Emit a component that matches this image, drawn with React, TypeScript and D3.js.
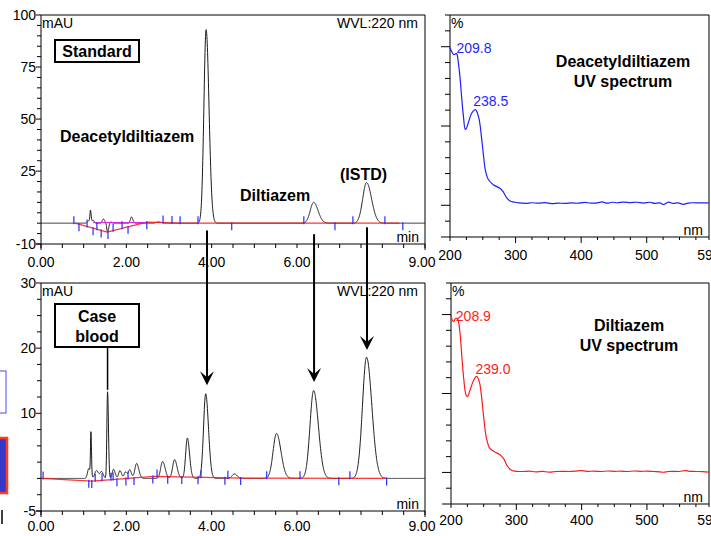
import React, { useEffect, useRef } from "react";
import * as d3 from "d3";

const FONT = "'Liberation Sans', Arial, Helvetica, sans-serif";

// Standard run: peak table (min, mAU, width in min)
const stdRt = [1.12, 1.16, 1.22, 1.46, 1.56, 1.64, 2.12, 2.75, 3.87, 6.39, 7.63];
const stdHt = [1.2, 5.6, 1.4, 2.0, -4.4, 0.6, 3.0, 0.6, 93, 10, 19.5];
const stdWd = [0.03, 0.012, 0.02, 0.025, 0.018, 0.02, 0.025, 0.05, 0.052, 0.08, 0.09];
// integration baseline (red) and split baseline (magenta)
const stdBaseT = [0.8, 1.55, 2.48, 3.3, 8.4];
const stdBaseV = [0, -4.3, 0.5, 0, 0];
const stdMagT = [1.22, 2.48];
const stdMagV = [0.3, 0.3];
// peak start / stop markers (min), 1 = up, -1 = down
const stdMarkT = [0.77, 0.89, 1.08, 1.22, 1.31, 1.41, 1.57, 1.69, 1.9, 2.04, 2.48, 2.86, 3.07, 3.26, 3.68, 4.47, 6.16, 6.89, 7.31, 8.06, 8.48];
const stdMarkD = [1, -1, 1, -1, 1, -1, -1, 1, 1, -1, -1, 1, 1, 1, 1, -1, 1, -1, 1, 1, -1];

// Case blood run
const caseRt = [1.12, 1.17, 1.3, 1.42, 1.56, 1.7, 1.85, 1.98, 2.08, 2.24, 2.85, 3.13, 3.43, 3.86, 4.53, 5.52, 6.39, 7.63];
const caseHt = [1.5, 6.6, 1.2, 1.0, 13.3, 1.4, 1.2, 1.0, 1.3, 2.3, 2.6, 2.9, 6.2, 13.0, 0.7, 6.9, 13.5, 18.6];
const caseWd = [0.03, 0.01, 0.04, 0.03, 0.016, 0.03, 0.03, 0.03, 0.03, 0.04, 0.045, 0.045, 0.04, 0.05, 0.05, 0.08, 0.085, 0.095];
const caseBaseT = [0, 1.2, 2.65, 4.7, 8.1];
const caseBaseV = [0, -0.4, 0.3, 0.05, 0];
const caseMarkT = [0.05, 1.12, 1.19, 1.27, 1.43, 1.64, 1.69, 1.78, 1.99, 2.04, 2.18, 2.62, 2.72, 2.97, 3.3, 3.68, 3.75, 4.31, 4.38, 4.68, 5.29, 6.07, 6.98, 7.24, 8.1];
const caseMarkD = [1, -1, -1, 1, 1, 1, 1, -1, -1, 1, -1, -1, 1, -1, -1, -1, 1, -1, 1, -1, 1, 1, -1, 1, -1];

// arrows linking the standard peaks to the case blood peaks
const arrowRt = [3.89, 6.4, 7.64];
const arrowFrom = [-3.5, -5.3, -2];
const arrowTo = [14.3, 14.8, 19.7];

// UV spectra (nm, %)
const deaSpec: [number, number][] = [
  [200, 99.5], [203, 96.5], [206, 95], [209.8, 95.8], [211, 94.8], [213, 89], [215.2, 81], [217.7, 68.5],
  [220.3, 57], [223.3, 47.9], [225, 48.5], [227.9, 52], [233, 58], [237, 60], [238.5, 60.4], [240.6, 59.4],
  [244.6, 53.8], [248, 43], [250.7, 32.8], [254, 22], [258, 16.6], [266, 13], [276, 10.7], [281, 8.6],
  [286, 5], [291, 2.9], [299, 1.9], [305, 1.5], [315, 1.2], [325, 1.6], [335, 1.3], [345, 1.7], [355, 1.1],
  [365, 1.4], [375, 1.2], [385, 1.5], [395, 1.3], [405, 1.8], [415, 1.4], [425, 1.5], [432, 2.1], [440, 1.3],
  [447, 1.9], [455, 1.6], [465, 2.0], [475, 1.7], [485, 1.9], [495, 1.4], [505, 1.9], [512, 1.2], [520, 1.5],
  [526, 0.5], [533, 2.0], [540, 1.2], [548, 1.5], [556, 0.6], [563, 1.4], [570, 1.6], [580, 1.5], [595, 1.5],
];
const dilSpec: [number, number][] = [
  [200, 99.8], [202.5, 96], [204.5, 95.8], [206.6, 97.3], [208.9, 97.7], [211, 96.2], [213.7, 88.8], [216.7, 73],
  [219.8, 58], [222.8, 49.4], [225.3, 48], [229, 52], [234, 57.8], [239, 60.8], [243, 58], [246.6, 48.7],
  [250, 35], [254, 22.4], [259, 15.6], [267, 12.9], [274.5, 11.4], [280.6, 8.7], [285.7, 4.4], [290.8, 1.9],
  [297, 0.8], [310, 0.6], [320, 0.8], [330, 0.4], [340, 0.7], [350, 0.2], [360, 0.6], [370, 0.7], [380, 0.6],
  [390, 0.8], [399, 1.2], [408, 0.7], [420, 0.8], [430, 0.6], [440, 0.9], [450, 0.7], [460, 0.8], [470, 0.6],
  [480, 0.9], [490, 0.7], [500, 0.8], [510, 0.6], [520, 0.4], [526, 0.1], [532, 0.6], [540, 0.7], [550, 0.6],
  [558, 1.2], [565, 0.7], [575, 0.6], [585, 0.5], [595, 0.2],
];
const deaMaxima = [209.8, 238.5];
const dilMaxima = [208.9, 239.0];

const chromLabels = [0, 2, 4, 6, 9];
const specLabels = [200, 300, 400, 500, 595];

type Sel = d3.Selection<any, unknown, null, undefined>;

function trace(rt: number[], ht: number[], wd: number[]) {
  const pts: [number, number][] = [];
  for (let t = 0; t <= 9.0001; t += 0.004) {
    let v = 0;
    rt.forEach((r, i) => {
      const s = t < r ? wd[i] : wd[i] * 1.3;
      v += ht[i] * Math.exp(-0.5 * ((t - r) / s) ** 2);
    });
    pts.push([t, v]);
  }
  return pts;
}

function txt(g: Sel, x: number, y: number, s: string, size: number, opts: any = {}) {
  return g.append("text").attr("x", x).attr("y", y)
    .attr("font-family", FONT).attr("font-size", size)
    .attr("font-weight", opts.bold ? "bold" : "normal")
    .attr("text-anchor", opts.anchor || "start")
    .attr("fill", opts.fill || "#000").text(s);
}

function drawChrom(svg: Sel, o: any) {
  const x = d3.scaleLinear().domain([0, 9]).range([41, 425]);
  const y = d3.scaleLinear().domain(o.yDomain).range([o.bottom, o.top]);
  const g = svg.append("g");
  // frame
  g.append("path").attr("d", `M41,${o.top}H425V${o.bottom + 6}`).attr("fill", "none").attr("stroke", "#000");
  g.append("line").attr("x1", 41).attr("x2", 41).attr("y1", o.top).attr("y2", o.bottom + 6).attr("stroke", "#000");
  g.append("line").attr("x1", 36).attr("x2", 425).attr("y1", o.bottom).attr("y2", o.bottom).attr("stroke", "#000");
  // y ticks
  d3.range(o.yDomain[0], o.yDomain[1] + 0.01, o.yStep).forEach((v) => {
    const lab = o.yLabels.includes(v);
    g.append("line").attr("x1", lab ? 36 : 37).attr("x2", 41).attr("y1", y(v)).attr("y2", y(v)).attr("stroke", "#000");
  });
  o.yLabels.forEach((v: number) => txt(g, 36, y(v) + 5, String(v), 14, { anchor: "end" }));
  // x ticks
  d3.range(0, 9.001, 0.5).forEach((t) => {
    g.append("line").attr("x1", x(t)).attr("x2", x(t)).attr("y1", o.bottom).attr("y2", o.bottom + 4).attr("stroke", "#000");
  });
  chromLabels.forEach((t) => txt(g, t === 9 ? x(t) - 3 : x(t), o.xLabelY, d3.format(".2f")(t), 14, { anchor: "middle" }));
  txt(g, 42, o.top + 12.5, "mAU", 14);
  txt(g, 418, o.top + 12.5, "WVL:220 nm", 14, { anchor: "end" });
  txt(g, 419, o.bottom - 2, "min", 14, { anchor: "end" });

  const line = d3.line<[number, number]>().x((d) => x(d[0])).y((d) => y(d[1]));
  g.append("path").attr("d", line(trace(o.rt, o.ht, o.wd))!).attr("fill", "none").attr("stroke", "#1a1a1a").attr("stroke-width", 1);
  const base = o.baseT.map((t: number, i: number) => [t, o.baseV[i]]);
  g.append("path").attr("d", line(base)!).attr("fill", "none").attr("stroke", "#ff1010").attr("stroke-width", 1.2).attr("stroke-opacity", 0.85);
  if (o.magT) {
    const m = o.magT.map((t: number, i: number) => [t, o.magV[i]]);
    g.append("path").attr("d", line(m)!).attr("fill", "none").attr("stroke", "#e020e0").attr("stroke-width", 1);
  }
  const baseAt = d3.scaleLinear().domain(o.baseT).range(o.baseV).clamp(true);
  o.markT.forEach((t: number, i: number) => {
    const yb = y(baseAt(t));
    const d = o.markD[i];
    g.append("line").attr("x1", x(t)).attr("x2", x(t))
      .attr("y1", d > 0 ? yb - 7 : yb - 1).attr("y2", d > 0 ? yb + 1 : yb + 7)
      .attr("stroke", "#2b2bff").attr("stroke-width", 1.2);
  });
  return { x, y };
}

function drawSpec(svg: Sel, o: any) {
  const x = d3.scaleLinear().domain([200, 595]).range([o.left, 709]);
  const y = d3.scaleLinear().domain([-20, 120]).range([o.bottom, o.top]);
  const g = svg.append("g");
  g.append("path").attr("d", `M${o.left},${o.top}H709V${o.bottom + 3}`).attr("fill", "none").attr("stroke", "#000");
  g.append("line").attr("x1", o.left).attr("x2", o.left).attr("y1", o.top).attr("y2", o.bottom + 4).attr("stroke", "#000");
  g.append("line").attr("x1", o.left - 9).attr("x2", 709).attr("y1", o.bottom).attr("y2", o.bottom).attr("stroke", "#000");
  d3.range(-10, 121, 10).forEach((v) => {
    const major = v % 50 === 0;
    g.append("line").attr("x1", o.left - (major ? 9 : 5)).attr("x2", o.left).attr("y1", y(v)).attr("y2", y(v)).attr("stroke", "#000");
  });
  d3.range(225, 595, 25).forEach((v) => {
    const major = v % 100 === 0;
    g.append("line").attr("x1", x(v)).attr("x2", x(v)).attr("y1", o.bottom).attr("y2", o.bottom + (major ? 6 : 3)).attr("stroke", "#000");
  });
  specLabels.forEach((v) => txt(g, x(v), o.xLabelY, String(v), 14, { anchor: "middle" }));
  txt(g, o.left + 1, o.top + 13, "%", 14);
  txt(g, 703, o.bottom - 2, "nm", 14, { anchor: "end" });
  const line = d3.line<[number, number]>().x((d) => x(d[0])).y((d) => y(d[1])).curve(d3.curveCatmullRom);
  g.append("path").attr("d", line(o.data)!).attr("fill", "none").attr("stroke", o.color).attr("stroke-width", 1.2);
  o.maxima.forEach((m: number, i: number) => {
    const v = o.data.find((d: [number, number]) => d[0] === m)[1];
    txt(g, x(m) + o.labDx[i], y(v) + o.labDy[i], d3.format(".1f")(m), 14, { fill: o.color });
  });
  o.title.forEach((s: string, i: number) => txt(g, o.titleX, o.titleY + i * 20, s, 16, { bold: true, anchor: "middle" }));
}

function box(svg: Sel, x: number, y: number, w: number, h: number, lines: string[], base: number) {
  svg.append("rect").attr("x", x).attr("y", y).attr("width", w).attr("height", h)
    .attr("fill", "#fff").attr("stroke", "#000").attr("stroke-width", 2);
  lines.forEach((s, i) => txt(svg, x + w / 2, base + i * 20, s, 16, { bold: true, anchor: "middle" }));
}

export default function App() {
  const ref = useRef<SVGSVGElement>(null);
  useEffect(() => {
    const svg = d3.select(ref.current) as Sel;
    svg.selectAll("*").remove();
    svg.append("rect").attr("width", 711).attr("height", 536).attr("fill", "#fff");

    // cropped fragments at the left edge
    svg.append("rect").attr("x", -2).attr("y", 371).attr("width", 8).attr("height", 42).attr("fill", "#fff").attr("stroke", "#4a4aff");
    svg.append("rect").attr("x", -2).attr("y", 438).attr("width", 9).attr("height", 55).attr("fill", "#3636c8").attr("stroke", "#ff3b1f").attr("stroke-width", 2.5);
    svg.append("line").attr("x1", 2).attr("x2", 2).attr("y1", 510).attr("y2", 524).attr("stroke", "#000").attr("stroke-width", 1.5);

    const top = drawChrom(svg, {
      top: 15, bottom: 244, yDomain: [-10, 100], yStep: 5, yLabels: [100, 75, 50, 25, -10], xLabelY: 267,
      rt: stdRt, ht: stdHt, wd: stdWd, baseT: stdBaseT, baseV: stdBaseV, magT: stdMagT, magV: stdMagV,
      markT: stdMarkT, markD: stdMarkD,
    });
    const bot = drawChrom(svg, {
      top: 283, bottom: 511, yDomain: [-5, 30], yStep: 2.5, yLabels: [30, 20, 10, -5], xLabelY: 531,
      rt: caseRt, ht: caseHt, wd: caseWd, baseT: caseBaseT, baseV: caseBaseV,
      markT: caseMarkT, markD: caseMarkD,
    });

    txt(svg, 60, 142, "Deacetyldiltiazem", 16, { bold: true });
    txt(svg, 240, 201, "Diltiazem", 16, { bold: true });
    txt(svg, 340, 180, "(ISTD)", 16, { bold: true });
    box(svg, 55, 40, 84, 22, ["Standard"], 57);

    // leader from the case blood box to its peak
    const xl = top.x(1.56);
    svg.append("line").attr("x1", xl).attr("x2", xl).attr("y1", 347).attr("y2", bot.y(13.6)).attr("stroke", "#000").attr("stroke-width", 1.5);
    box(svg, 55, 304, 84, 43, ["Case", "blood"], 322);

    arrowRt.forEach((t, i) => {
      const ax = top.x(t);
      const y0 = top.y(arrowFrom[i]);
      const y1 = bot.y(arrowTo[i]);
      svg.append("line").attr("x1", ax).attr("x2", ax).attr("y1", y0).attr("y2", y1 - 6).attr("stroke", "#000").attr("stroke-width", 2);
      svg.append("path").attr("d", `M${ax},${y1}L${ax - 7},${y1 - 14}L${ax},${y1 - 8}L${ax + 7},${y1 - 14}Z`).attr("fill", "#000");
    });

    drawSpec(svg, {
      left: 450, top: 15, bottom: 237, xLabelY: 260, data: deaSpec, color: "#1f1fff", maxima: deaMaxima,
      labDx: [-0, -2], labDy: [0, -4], title: ["Deacetyldiltiazem", "UV spectrum"], titleX: 623, titleY: 67,
    });
    drawSpec(svg, {
      left: 451, top: 283, bottom: 504, xLabelY: 525, data: dilSpec, color: "#ff1a1a", maxima: dilMaxima,
      labDx: [-1, -1], labDy: [3, -2], title: ["Diltiazem", "UV spectrum"], titleX: 629, titleY: 331,
    });
  }, []);
  return <svg ref={ref} width={711} height={536} style={{ position: "absolute", left: 0, top: 0 }} />;
}
